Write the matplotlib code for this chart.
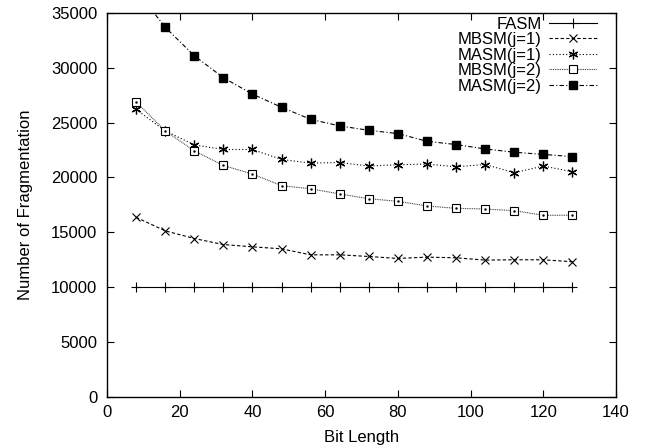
import matplotlib
matplotlib.use("Agg")
import matplotlib.pyplot as plt

# данные
bit_length = [8, 16, 24, 32, 40, 48, 56, 64, 72, 80, 88, 96, 104, 112, 120, 128]
fasm = [10000] * 16
mbsm_j1 = [16360, 15130, 14430, 13880, 13670, 13490, 12940, 12940,
           12790, 12610, 12730, 12670, 12460, 12490, 12490, 12310]
masm_j1 = [26200, 24250, 22970, 22550, 22550, 21640, 21310, 21360,
           21040, 21160, 21220, 20970, 21180, 20430, 21040, 20520]
mbsm_j2 = [26880, 24250, 22430, 21090, 20310, 19250, 18970, 18490,
           18060, 17820, 17400, 17180, 17120, 16970, 16550, 16550]
masm_j2 = [37100, 33700, 31100, 29100, 27600, 26400, 25300, 24700,
           24300, 24000, 23300, 23000, 22600, 22300, 22100, 21900]

plt.rcParams['font.family'] = ['Liberation Sans', 'DejaVu Sans']
plt.rcParams['font.size'] = 12

fig = plt.figure(figsize=(6.49, 4.48), dpi=100)
ax = fig.add_axes([0.1649, 0.1145, 0.7843, 0.8565])

lw = 0.8
ax.plot(bit_length, fasm, color='black', lw=lw, marker='+', ms=7,
        mew=0.8, label='FASM')
ax.plot(bit_length, mbsm_j1, color='black', lw=lw, dashes=(3, 2),
        marker='x', ms=6, mew=0.8, label='MBSM(j=1)')
ax.plot(bit_length, masm_j1, color='black', lw=lw, dashes=(1, 2),
        marker=(6, 2, 0), ms=7, mew=0.9, label='MASM(j=1)')
ax.plot(bit_length, mbsm_j2, color='#333333', lw=lw, dashes=(0.8, 0.8),
        marker='s', ms=6, mfc='white', mec='black', mew=0.8, label='MBSM(j=2)')
ax.plot(bit_length, masm_j2, color='black', lw=lw, dashes=(4, 2, 1, 2),
        marker='s', ms=6, mfc='black', mec='black', label='MASM(j=2)')
# точка внутри открытых квадратов (как в gnuplot)
ax.plot(bit_length, mbsm_j2, ls='none', marker='.', ms=1.5, color='black')

ax.set_xlim(0, 140)
ax.set_ylim(0, 35000)
ax.set_xticks(range(0, 141, 20))
ax.set_yticks(range(0, 35001, 5000))
ax.tick_params(direction='in', length=5, width=0.8, top=True, right=True)
ax.tick_params(axis='x', pad=6)
ax.tick_params(axis='y', pad=7)
for s in ax.spines.values():
    s.set_linewidth(1.0)

ax.set_xlabel('Bit Length', labelpad=7)
ax.set_ylabel('Number of Fragmentation', labelpad=13)

handles, labels = ax.get_legend_handles_labels()
ax.legend(handles, labels, loc='upper right', bbox_to_anchor=(0.962, 0.99),
          frameon=False, markerfirst=False, handlelength=2.86,
          labelspacing=0.03, borderpad=0.0, borderaxespad=0.0,
          handletextpad=0.44, fontsize=12)

fig.savefig('out.png', dpi=100)
